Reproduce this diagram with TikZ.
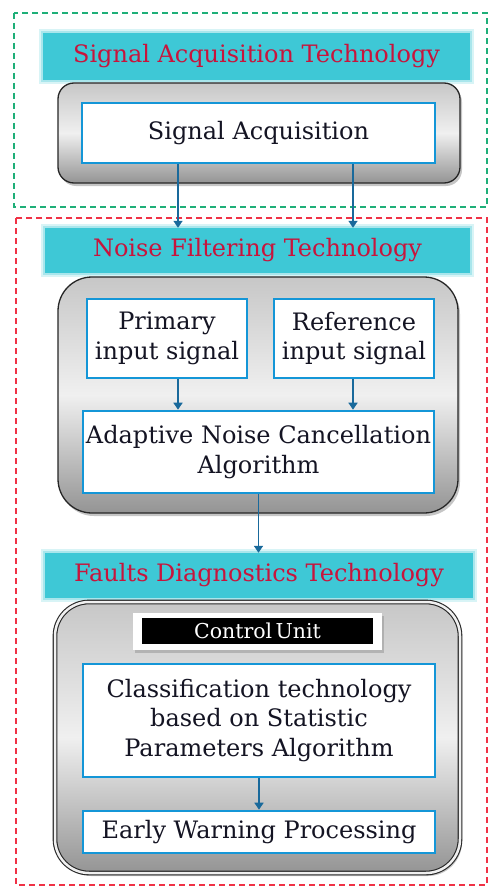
\documentclass[tikz,border=0pt]{standalone}
\usepackage{fontspec}
\setmainfont{DejaVu Serif}
\usetikzlibrary{shadows,arrows.meta}

\definecolor{bluedge}{RGB}{20,150,215}
\definecolor{arrowc}{RGB}{25,105,155}
\definecolor{bannerc}{RGB}{62,200,214}
\definecolor{titlec}{RGB}{200,20,60}
\definecolor{greendash}{RGB}{30,175,120}
\definecolor{reddash}{RGB}{240,50,70}
\definecolor{inkc}{RGB}{20,20,35}

\newcommand\boxfont{\fontsize{24}{29.5}\selectfont}

\tikzset{
  banner/.style={fill=bannerc, text=titlec, inner sep=0pt,
    font=\boxfont,
    preaction={draw=bannerc, draw opacity=0.2, line width=8pt},
    preaction={draw=bannerc, draw opacity=0.3, line width=4pt}},
  graybox/.style={draw=black!85, line width=1.3pt, rounded corners=16pt,
    top color=black!22, bottom color=black!42, middle color=black!6,
    drop shadow={shadow xshift=2pt, shadow yshift=-3pt, opacity=0.45}},
  bluebox/.style={draw=bluedge, line width=2.6pt, fill=white, text=inkc,
    align=center, inner sep=0pt, font=\boxfont},
  arr/.style={draw=arrowc, line width=1.6pt,
    -{Triangle[length=7pt,width=9pt]}},
  groupbox/.style={line width=1.3pt, dash pattern=on 6pt off 4pt}
}

\begin{document}
\begin{tikzpicture}[x=1pt,y=-1pt]
\useasboundingbox[fill=white] (0,0) rectangle (494,888);

% dashed group frames
\draw[groupbox, draw=greendash] (14,13) rectangle (487,207);
\draw[groupbox, draw=reddash] (16,218) rectangle (487,885);

% section 1: acquisition
\node[banner, minimum width=427, minimum height=47] (b1) at (256.5,56.5) {Signal Acquisition Technology};
\node[graybox, minimum width=402, minimum height=100] (g1) at (259,133) {};
\node[bluebox, minimum width=353, minimum height=60] (sa) at (258.5,133) {Signal Acquisition};

% section 2: noise filtering
\node[banner, minimum width=425, minimum height=45] (b2) at (257.5,250.5) {Noise Filtering Technology};
\node[graybox, rounded corners=34pt, minimum width=400, minimum height=236] (g2) at (258,395) {};
\node[bluebox, minimum width=160, minimum height=79] (pri) at (167,338.5) {Primary\\input signal};
\node[bluebox, minimum width=160, minimum height=79] (ref) at (354,338.5) {Reference\\input signal};
\node[bluebox, minimum width=351, minimum height=82] (anc) at (258.5,452) {Adaptive Noise Cancellation\\Algorithm};

% section 3: fault diagnostics
\node[banner, minimum width=428, minimum height=45] (b3) at (259,575.5) {Faults Diagnostics Technology};
\node[graybox, rounded corners=34pt, double=black!6, double distance=2.5pt, line width=1.1pt,
      minimum width=405, minimum height=271] (g3) at (257.5,737.5) {};
\node[fill=white, minimum width=249, minimum height=37, inner sep=0pt,
      drop shadow={shadow xshift=1.5pt, shadow yshift=-2.5pt, opacity=0.4}] (cuback) at (257.5,631.5) {};
\node[fill=black, text=white, minimum width=231, minimum height=26, inner sep=0pt,
      font=\fontsize{20.5}{22}\selectfont] (cu) at (257.5,631) {Control\,Unit};
\node[bluebox, minimum width=352, minimum height=113] (cls) at (259,720.5) {Classification technology\\based on Statistic\\Parameters Algorithm};
\node[bluebox, minimum width=352, minimum height=42] (ew) at (259,832) {Early Warning Processing};

% connector columns
\coordinate (xl) at (178,0);
\coordinate (xr) at (353,0);
\coordinate (xm) at (258.5,0);

\draw[arr] (sa.south -| xl) -- (b2.north -| xl);
\draw[arr] (sa.south -| xr) -- (b2.north -| xr);
\draw[arr] (pri.south -| xl) -- (anc.north -| xl);
\draw[arr] (ref.south -| xr) -- (anc.north -| xr);
\draw[arr] (anc.south -| xm) -- (b3.north -| xm);
\draw[arr] (cls.south) -- (ew.north);
\end{tikzpicture}
\end{document}
